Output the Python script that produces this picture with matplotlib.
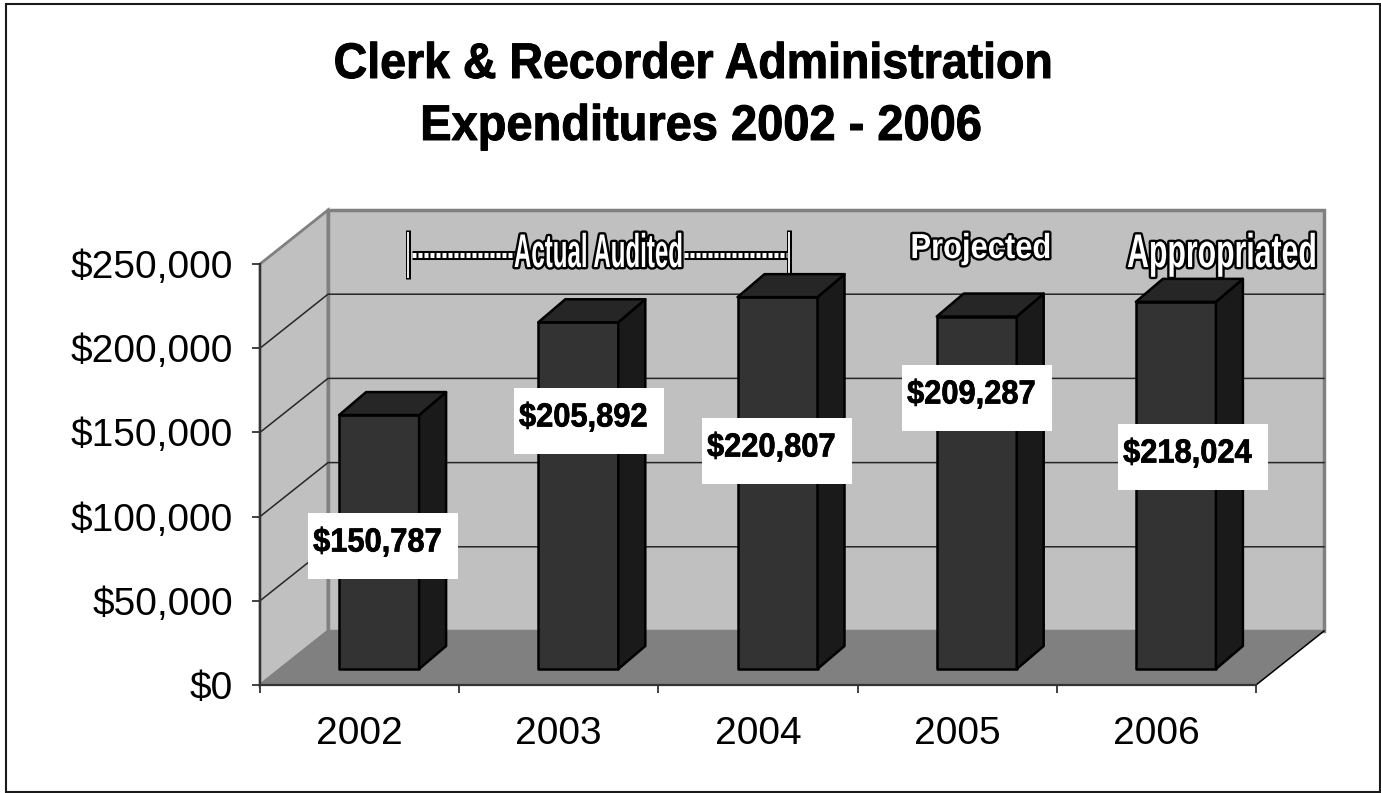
import matplotlib
matplotlib.use("Agg")
import matplotlib.pyplot as plt
import matplotlib.patheffects as pe
from matplotlib.patches import Polygon, Rectangle
from matplotlib.ticker import StrMethodFormatter
from matplotlib.transforms import Affine2D

years = ["2002", "2003", "2004", "2005", "2006"]
values = [150787, 205892, 220807, 209287, 218024]
value_labels = ["$150,787", "$205,892", "$220,807", "$209,287", "$218,024"]

W, H = 1381, 793
plt.rcParams["font.family"] = ["Liberation Sans", "DejaVu Sans"]


class Squeeze(pe.AbstractPathEffect):
    # narrows glyphs about their centre, optionally with an outline behind them
    def __init__(self, sx, stroke=0, stroke_color="black"):
        super().__init__()
        self.sx = sx
        self.stroke = stroke
        self.stroke_color = stroke_color

    def draw_path(self, renderer, gc, tpath, affine, rgbFace=None):
        box = tpath.get_extents(affine)
        cx = (box.x0 + box.x1) / 2
        squeezed = affine + Affine2D().translate(-cx, 0).scale(self.sx, 1).translate(cx, 0)
        if self.stroke:
            gc0 = renderer.new_gc()
            gc0.copy_properties(gc)
            gc0.set_linewidth(self.stroke)
            gc0.set_foreground(self.stroke_color)
            renderer.draw_path(gc0, tpath, squeezed, rgbFace)
            gc0.restore()
        renderer.draw_path(gc, tpath, squeezed, rgbFace)


fig = plt.figure(figsize=(W / 100, H / 100), dpi=100, facecolor="white")

# front plane of the chart box
left, right, top, bottom = 260, 1256, 264, 685
ax = fig.add_axes([left / W, 1 - bottom / H, (right - left) / W, (bottom - top) / H])
ax.set_xlim(0, 5)
ax.set_ylim(0, 250000)
ax.patch.set_visible(False)

# pixel positions for the frame and the annotations
pix = Affine2D().scale(1 / W, -1 / H).translate(0, 1) + fig.transFigure

# sizes of one pixel in data units
px_x = 5 / (right - left)
px_y = 250000 / (bottom - top)


def depth(x, y, dx, dy):
    return (x + dx * px_x, y + dy * px_y)


# box walls and floor
wall_dx, wall_dy = 68, 54
ymax = 250000
ax.add_patch(Polygon([(0, 0), depth(0, 0, wall_dx, wall_dy), depth(0, ymax, wall_dx, wall_dy), (0, ymax)],
                     fc="#c0c0c0", ec="#808080", lw=2, clip_on=False, zorder=1))
ax.add_patch(Polygon([depth(0, 0, wall_dx, wall_dy), depth(5, 0, wall_dx, wall_dy),
                      depth(5, ymax, wall_dx, wall_dy), depth(0, ymax, wall_dx, wall_dy)],
                     fc="#c0c0c0", ec="#808080", lw=2.5, clip_on=False, zorder=1))
ax.add_patch(Polygon([(0, 0), (5, 0), depth(5, 0, wall_dx, wall_dy), depth(0, 0, wall_dx, wall_dy)],
                     fc="#808080", ec="none", clip_on=False, zorder=1.5))

# gridlines run along the side wall and across the back wall
for v in [50000, 100000, 150000, 200000]:
    p0 = (0, v)
    p1 = depth(0, v, wall_dx, wall_dy)
    p2 = depth(5, v, wall_dx, wall_dy)
    ax.plot([p0[0], p1[0], p2[0]], [p0[1], p1[1], p2[1]], color="#262626", lw=1.1,
            clip_on=False, zorder=2)
p0 = (5, 0)
p1 = depth(5, 0, wall_dx, wall_dy)
ax.plot([p0[0], p1[0]], [p0[1], p1[1]], color="black", lw=1.1, clip_on=False, zorder=2)

# annotations above the bars, partly hidden by them
for x0, x1 in [(412, 516), (684, 787)]:
    ax.plot([x0, x1], [255, 255], color="black", lw=6.5, transform=pix, clip_on=False, zorder=3,
            solid_capstyle="butt")
    ax.plot([x0, x1], [255, 255], color="white", lw=3.6, dashes=(0.8, 0.4), transform=pix,
            clip_on=False, zorder=3.1, dash_capstyle="butt")
for x0 in [408, 789.5]:
    ax.plot([x0, x0], [230, 279], color="black", lw=3.6, transform=pix, clip_on=False, zorder=3,
            solid_capstyle="butt")
    ax.plot([x0, x0], [231.5, 277.5], color="white", lw=1.3, transform=pix, clip_on=False, zorder=3.1,
            solid_capstyle="butt")
ax.text(599, 267, "Actual Audited", transform=pix, ha="center", va="baseline", fontsize=34, color="white",
        fontweight="bold", path_effects=[Squeeze(0.51, 3.4)], zorder=3.2)
ax.text(981, 258, "Projected", transform=pix, ha="center", va="baseline", fontsize=25, color="white",
        fontweight="bold", path_effects=[Squeeze(0.89, 3.4)], zorder=3.2)
ax.text(1222.5, 267, "Appropriated", transform=pix, ha="center", va="baseline", fontsize=34, color="white",
        fontweight="bold", path_effects=[Squeeze(0.64, 3.4)], zorder=3.2)

# 3-d columns: front from ax.bar, side and top as polygons
bar_w = 80 * px_x
bar_dx, bar_dy = 27, 23
floor_dx, floor_dy = 20, 16
base = floor_dy * px_y
for i, v in enumerate(values):
    x0 = i + 0.5 + (floor_dx - 40.5) * px_x
    x1 = x0 + bar_w
    ax.bar(x0, v, width=bar_w, bottom=base, align="edge", color="#333333", edgecolor="black",
           linewidth=1.8, zorder=4, clip_on=False, joinstyle="round")
    y0, y1 = base, base + v
    ax.add_patch(Polygon([(x1, y0), depth(x1, y0, bar_dx, bar_dy), depth(x1, y1, bar_dx, bar_dy), (x1, y1)],
                         fc="#1a1a1a", ec="black", lw=1.8, clip_on=False, zorder=4, joinstyle="round"))
    ax.add_patch(Polygon([(x0, y1), (x1, y1), depth(x1, y1, bar_dx, bar_dy), depth(x0, y1, bar_dx, bar_dy)],
                         fc="#262626", ec="black", lw=1.8, clip_on=False, zorder=4, joinstyle="round"))

# white value boxes sit on top of the columns
boxes = [(308, 513), (514, 388), (702, 418), (902, 365), (1118, 424)]
for (bx, by), lab in zip(boxes, value_labels):
    ax.add_patch(Rectangle((bx, by), 150, 65.5, fc="white", ec="none", transform=pix, clip_on=False, zorder=5))
    ax.text(bx + 69.5, by + 38.5, lab, transform=pix, ha="center", va="baseline", fontsize=24, fontweight="bold",
            color="black", zorder=6, path_effects=[Squeeze(0.925, 0.5)])

# axes and ticks
for side in ["top", "right"]:
    ax.spines[side].set_visible(False)
for side in ["left", "bottom"]:
    ax.spines[side].set_color("#333333")
    ax.spines[side].set_linewidth(1.6)
    ax.spines[side].set_zorder(3)
ax.set_yticks([0, 50000, 100000, 150000, 200000, 250000])
ax.yaxis.set_major_formatter(StrMethodFormatter("${x:,.0f}"))
ax.set_xticks(range(6))
ax.set_xticklabels([])
ax.set_xticks([i + 0.5 for i in range(5)], labels=years, minor=True)
ax.tick_params(axis="both", which="major", length=5.5, width=1.3, color="#333333", labelsize=28)
ax.tick_params(axis="y", which="major", pad=14)
ax.tick_params(axis="x", which="minor", length=0, labelsize=28, pad=22)

# outer chart frame
fig.add_artist(Rectangle((6, 4), 1374, 788, fc="none", ec="#1a1a1a", lw=1.5, transform=pix))

fig.text(693.5 / W, 1 - 78 / H, "Clerk & Recorder Administration", ha="center", va="baseline",
         fontsize=36, fontweight="bold", path_effects=[Squeeze(0.93, 0.7)])
fig.text(701 / W, 1 - 140 / H, "Expenditures 2002 - 2006", ha="center", va="baseline",
         fontsize=36, fontweight="bold", path_effects=[Squeeze(0.94, 0.7)])

fig.savefig("out.png", dpi=100)
